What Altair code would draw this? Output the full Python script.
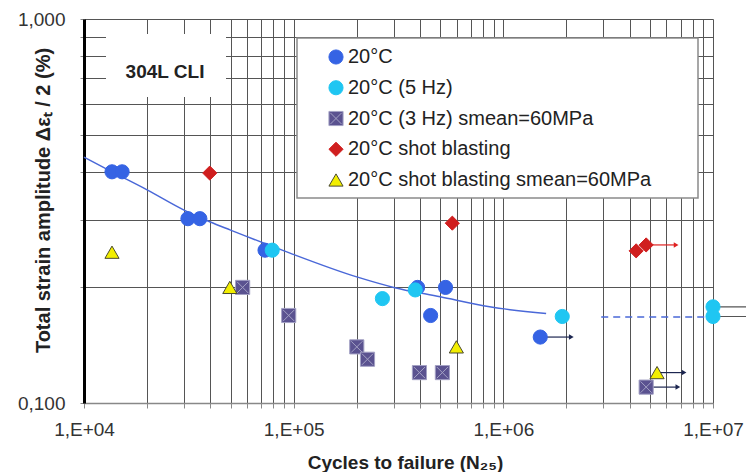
import altair as alt
import pandas as pd

# ---------------- data ----------------
series_names = [
    "20°C",
    "20°C (5 Hz)",
    "20°C (3 Hz) smean=60MPa",
    "20°C shot blasting",
    "20°C shot blasting smean=60MPa",
]

blue_N = [1.36e4, 1.52e4, 3.13e4, 3.57e4, 7.3e4, 3.9e5, 5.3e5, 4.5e5, 1.5e6]
blue_eps = [0.40, 0.40, 0.302, 0.302, 0.25, 0.200, 0.200, 0.169, 0.1485]

cyan_N = [7.9e4, 2.65e5, 3.8e5, 1.91e6, 1.0e7, 1.0e7]
cyan_eps = [0.25, 0.187, 0.197, 0.168, 0.178, 0.168]

purple_N = [5.71e4, 9.47e4, 2.0e5, 2.25e5, 3.98e5, 5.12e5, 4.8e6]
purple_eps = [0.200, 0.169, 0.140, 0.130, 0.120, 0.120, 0.110]

red_N = [3.98e4, 5.71e5, 4.3e6, 4.8e6]
red_eps = [0.397, 0.294, 0.249, 0.258]

yellow_N = [1.36e4, 4.96e4, 5.97e5, 5.41e6]
yellow_eps = [0.247, 0.200, 0.140, 0.120]

# fitted curve
fit_N = [1.0e4, 1.36e4, 2.0e4, 3.0e4, 4.0e4, 5.0e4, 9.0e4, 2.0e5, 3.0e5, 5.0e5, 8.6e5, 1.6e6]
fit_eps = [0.437, 0.40, 0.359, 0.318, 0.296, 0.282, 0.249, 0.213, 0.200, 0.189, 0.178, 0.171]

# dashed extension
dash_N = [2.93e6, 9.3e6]
dash_eps = [0.1675, 0.1675]

# run-out arrows: start N, end N, eps, group
arrow_start = [1.5e6, 4.8e6, 5.41e6, 4.8e6]
arrow_end = [2.11e6, 6.8e6, 7.28e6, 6.67e6]
arrow_eps = [0.1485, 0.110, 0.120, 0.258]
arrow_kind = ["dark", "dark", "dark", "red"]

# run-out lines leaving the frame at 1E+07
runout_start = [1.0e7, 1.0e7]
runout_end = [1.45e7, 1.45e7]
runout_eps = [0.178, 0.168]

# axis ticks / labels
x_grid = [m * 10 ** k for k in (4, 5, 6) for m in range(1, 10)] + [10 ** 7]
x_label_values = [10 ** 4, 10 ** 5, 10 ** 6, 10 ** 7]
x_label_texts = ["1,E+04", "1,E+05", "1,E+06", "1,E+07"]
y_grid = [0.1, 0.2, 0.3, 0.4, 0.5, 0.6, 0.7, 0.8, 0.9, 1.0]
y_label_values = [0.1, 1.0]
y_label_texts = ["0,100", "1,000"]

annotation_text = "304L CLI"

# ---------------- styling ----------------
FONT = "Liberation Sans"
fill_colors = ["#3563e4", "#1fc6f2", "#5a5290", "#d01f1f", "#f2ee00"]
stroke_colors = ["#3563e4", "#1fc6f2", "#a3a1c4", "#d01f1f", "#4a4a30"]
square_x = "M-1,-1L1,-1L1,1L-1,1Z M-0.8,-0.8L0.8,0.8 M0.8,-0.8L-0.8,0.8"
shapes = ["circle", "circle", square_x, "diamond", "triangle-up"]
sizes = [200, 200, 160, 130, 95]


def label_expr(values, texts):
    parts = [f"datum.value == {v} ? '{t}'" for v, t in zip(values, texts)]
    return " : ".join(parts) + " : ''"


rows = []
for name, Ns, es in [
    (series_names[0], blue_N, blue_eps),
    (series_names[1], cyan_N, cyan_eps),
    (series_names[2], purple_N, purple_eps),
    (series_names[3], red_N, red_eps),
    (series_names[4], yellow_N, yellow_eps),
]:
    for n, e in zip(Ns, es):
        rows.append({"N": n, "eps": e, "series": name})
pts = pd.DataFrame(rows)

fit_df = pd.DataFrame({"N": fit_N, "eps": fit_eps})
dash_df = pd.DataFrame({"N": dash_N, "eps": dash_eps})
arr_df = pd.DataFrame({"N": arrow_start, "N2": arrow_end, "eps": arrow_eps, "kind": arrow_kind})
run_df = pd.DataFrame({"N": runout_start, "N2": runout_end, "eps": runout_eps})
leg_df = pd.DataFrame({"series": series_names})

W, H = 629, 384

x_scale = alt.Scale(type="log", domain=[1e4, 1e7])
y_scale = alt.Scale(type="log", domain=[0.1, 1.0])

x_axis = alt.Axis(
    values=x_grid,
    labelExpr=label_expr(x_label_values, x_label_texts),
    labelOverlap=False,
    labelFlush=False,
    labelFont=FONT,
    labelFontSize=19,
    labelColor="#333",
    labelPadding=12,
    grid=True,
    gridColor="#555",
    gridWidth=1,
    gridOpacity=1,
    domainColor="#888",
    domainWidth=1.5,
    tickColor="#888",
    tickSize=5,
    title="Cycles to failure (N₂₅)",
    titleFont=FONT,
    titleFontSize=19,
    titleFontWeight="bold",
    titleColor="#222",
    titleX=321,
    titleY=59,
    titleAlign="center",
    titleBaseline="middle",
)
y_axis = alt.Axis(
    values=y_grid,
    labelExpr=label_expr(y_label_values, y_label_texts),
    labelOverlap=False,
    labelFlush=False,
    labelFont=FONT,
    labelFontSize=19,
    labelColor="#333",
    labelPadding=15,
    labelBaseline="middle",
    grid=True,
    gridColor="#555",
    gridWidth=1,
    gridOpacity=1,
    domainColor="#000",
    domainWidth=3,
    tickColor="#888",
    tickSize=4,
    title="Total strain amplitude  Δεₜ / 2 (%)",
    titleFont=FONT,
    titleFontSize=20,
    titleFontWeight="bold",
    titleColor="#222",
    titleX=-41,
    titleY=181,
    titleAngle=270,
    titleAlign="center",
    titleBaseline="middle",
)

X = alt.X("N:Q", scale=x_scale, axis=x_axis)
Y = alt.Y("eps:Q", scale=y_scale, axis=y_axis)

fill_enc = alt.Fill("series:N", scale=alt.Scale(domain=series_names, range=fill_colors), legend=None)
stroke_enc = alt.Stroke("series:N", scale=alt.Scale(domain=series_names, range=stroke_colors), legend=None)
shape_enc = alt.Shape("series:N", scale=alt.Scale(domain=series_names, range=shapes), legend=None)
size_enc = alt.Size("series:N", scale=alt.Scale(domain=series_names, range=sizes), legend=None)

# annotation box
label_box = alt.Chart(pd.DataFrame({"a": [0]})).mark_rect(fill="white").encode(
    x=alt.value(22), x2=alt.value(142), y=alt.value(15), y2=alt.value(78)
)
label_text = alt.Chart(pd.DataFrame({"t": [annotation_text]})).mark_text(
    font=FONT, fontSize=19, fontWeight="bold", color="#222", align="center", baseline="middle"
).encode(x=alt.value(81), y=alt.value(53), text="t:N")

fit_line = alt.Chart(fit_df).mark_line(color="#4a68d8", strokeWidth=1.5, interpolate="monotone").encode(x=X, y=Y)
dash_line = alt.Chart(dash_df).mark_line(color="#4a68d8", strokeWidth=1.5, strokeDash=[7, 5]).encode(x=X, y=Y)

run_lines = alt.Chart(run_df).mark_rule(color="#555", strokeWidth=1.2, clip=False).encode(
    x=X, x2="N2:Q", y=Y
)

arrow_color = alt.Color(
    "kind:N", scale=alt.Scale(domain=["dark", "red"], range=["#1c2650", "#e02020"]), legend=None
)
arrow_lines = alt.Chart(arr_df).mark_rule(strokeWidth=1.2).encode(x=X, x2="N2:Q", y=Y, color=arrow_color)
arrow_heads = alt.Chart(arr_df).mark_point(shape="triangle-right", filled=True, size=30, opacity=1).encode(
    x=alt.X("N2:Q", scale=x_scale), y=alt.Y("eps:Q", scale=y_scale), color=arrow_color
)

points = alt.Chart(pts).mark_point(filled=True, opacity=1, strokeWidth=1).encode(
    x=X, y=Y, fill=fill_enc, stroke=stroke_enc, shape=shape_enc, size=size_enc
)

main = alt.layer(label_box, label_text, fit_line, dash_line, run_lines, arrow_lines, arrow_heads, points)

# legend (drawn with its own row scale)
leg_y = alt.Y("series:N", scale=alt.Scale(domain=series_names, range=[38, 161], padding=0), axis=None)
legend_box = alt.Chart(pd.DataFrame({"a": [0]})).mark_rect(
    fill="white", stroke="#8a8a8a", strokeWidth=1.5
).encode(x=alt.value(213), x2=alt.value(614), y=alt.value(19), y2=alt.value(179))
legend_syms = alt.Chart(leg_df).mark_point(filled=True, opacity=1, strokeWidth=1).encode(
    x=alt.value(252), y=leg_y, fill=fill_enc, stroke=stroke_enc, shape=shape_enc, size=size_enc
)
legend_text = alt.Chart(leg_df).mark_text(
    font=FONT, fontSize=20, color="#222", align="left", baseline="middle"
).encode(x=alt.value(264), y=leg_y, text="series:N")
legend_layer = alt.layer(legend_box, legend_syms, legend_text)

chart = (
    alt.layer(main, legend_layer)
    .resolve_scale(y="independent")
    .properties(
        width=W,
        height=H,
        autosize=alt.AutoSizeParams(type="none"),
        padding={"left": 84, "top": 19, "right": 33, "bottom": 69},
        background="white",
    )
    .configure_view(stroke=None)
)

chart.save("out.html", embed_options={"renderer": "svg", "actions": False})
